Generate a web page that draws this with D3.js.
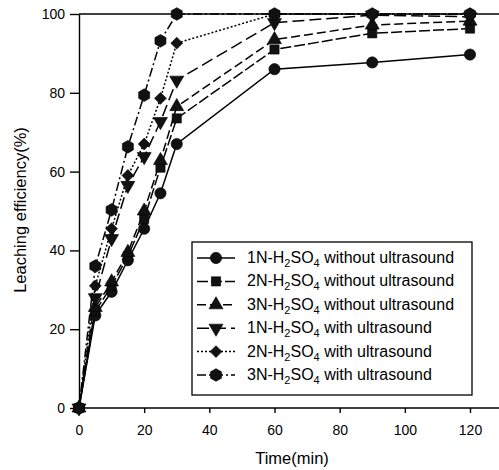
<!DOCTYPE html>
<html><head><meta charset="utf-8">
<script src="https://cdn.jsdelivr.net/npm/d3@7"></script>
<style>
html,body{margin:0;padding:0;background:#fff;}
svg{display:block;font-family:"Liberation Sans",Arial,sans-serif;}
</style></head>
<body>
<svg id="chart" width="499" height="470"></svg>
<script>
const time = [0, 5, 10, 15, 20, 25, 30, 60, 90, 120];
const n1Without = [0, 23.5, 29.5, 37.5, 45.5, 54.5, 67, 86, 87.7, 89.7];
const n2Without = [0, 24.5, 31, 38.5, 48, 61, 73.5, 91, 95.1, 96.3];
const n3Without = [0, 25.5, 32, 39.5, 50, 62.8, 76.5, 93.5, 97.2, 98.2];
const n1With = [0, 28, 43, 56.5, 63.8, 72.7, 83.2, 97.8, 99.7, 99.3];
const n2With = [0, 31, 45.5, 59, 67, 78.6, 92.6, 100, 100, 100];
const n3With = [0, 36, 50.3, 66.3, 79.4, 93.2, 100, 100, 100, 100];
const acid = ["1N", "2N", "3N", "1N", "2N", "3N"];
const condition = ["without ultrasound", "without ultrasound", "without ultrasound", "with ultrasound", "with ultrasound", "with ultrasound"];
const xTicks = [0, 20, 40, 60, 80, 100, 120];
const yTicks = [0, 20, 40, 60, 80, 100];
const xTitle = "Time(min)";
const yTitle = "Leaching efficiency(%)";

const seriesValues = [n1Without, n2Without, n3Without, n1With, n2With, n3With];
const dashes = [null, "11,3", "9,4", "12,5", "2,2", "9,3,2,3"];
const hexagon = {draw(ctx, size){const r=Math.sqrt(size/2.598);for(let i=0;i<6;i++){const a=Math.PI/6+i*Math.PI/3;const px=r*Math.cos(a),py=r*Math.sin(a);if(i===0)ctx.moveTo(px,py);else ctx.lineTo(px,py);}ctx.closePath();}};
const symbols = [d3.symbolCircle, d3.symbolSquare, d3.symbolTriangle, d3.symbolTriangle, d3.symbolSquare, hexagon];
const symSizes = [100, 85, 85, 85, 70, 105];
const rotations = [0, 0, 0, 180, 45, 0];

const svg = d3.select("#chart");
const x = d3.scaleLinear().domain([0, 120]).range([79, 470]);
const y = d3.scaleLinear().domain([0, 100]).range([408, 14]);
const font = 14;
const titleFont = 16.5;
const legendFont = 16;

svg.append("line").attr("x1", x(0)).attr("x2", 499).attr("y1", y(100)).attr("y2", y(100))
  .attr("stroke", "#000").attr("stroke-width", 1.4);

const gx = svg.append("g").attr("transform", `translate(0,${y(0)})`)
  .call(d3.axisBottom(x).tickValues(xTicks).tickSize(5).tickPadding(12).tickSizeOuter(0));
gx.select(".domain").remove();
gx.append("line").attr("x1", x(0)).attr("x2", 499).attr("stroke", "#000").attr("stroke-width", 1.4);
gx.selectAll("text").attr("font-size", font).attr("fill", "#000").attr("font-family", "Liberation Sans, Arial, sans-serif");
gx.selectAll(".tick line").attr("stroke-width", 1.4);

const gy = svg.append("g").attr("transform", `translate(${x(0)},0)`)
  .call(d3.axisLeft(y).tickValues(yTicks).tickSize(9).tickPadding(5).tickSizeOuter(0));
gy.select(".domain").attr("stroke-width", 1.4);
gy.selectAll("text").attr("font-size", font).attr("fill", "#000").attr("font-family", "Liberation Sans, Arial, sans-serif");
gy.selectAll(".tick line").attr("stroke-width", 1.4);

svg.append("text").attr("x", 292).attr("y", 464).attr("text-anchor", "middle")
  .attr("font-size", titleFont).attr("fill", "#000").text(xTitle);
svg.append("text").attr("transform", "translate(26,210) rotate(-90)").attr("text-anchor", "middle")
  .attr("font-size", titleFont).attr("fill", "#000").text(yTitle);

const line = d3.line().x((d, i) => x(time[i])).y(d => y(d));
seriesValues.forEach((vals, k) => {
  svg.append("path").datum(vals).attr("d", line).attr("fill", "none")
    .attr("stroke", "#000").attr("stroke-width", 1.5)
    .attr("stroke-dasharray", dashes[k]);
});
seriesValues.forEach((vals, k) => {
  const sym = d3.symbol().type(symbols[k]).size(symSizes[k]);
  svg.append("g").selectAll("path").data(vals).join("path")
    .attr("d", sym)
    .attr("transform", (d, i) => `translate(${x(time[i])},${y(d)}) rotate(${rotations[k]})`)
    .attr("fill", "#111").attr("stroke", "#000").attr("stroke-width", 0.6);
});

const lg = svg.append("g");
lg.append("rect").attr("x", 192).attr("y", 242).attr("width", 280).attr("height", 153)
  .attr("fill", "#fff").attr("stroke", "#000").attr("stroke-width", 1.3);
acid.forEach((a, k) => {
  const cy = 258 + k * 23.4;
  lg.append("line").attr("x1", 197).attr("x2", 235).attr("y1", cy).attr("y2", cy)
    .attr("stroke", "#000").attr("stroke-width", 1.5).attr("stroke-dasharray", dashes[k]);
  lg.append("path").attr("d", d3.symbol().type(symbols[k]).size(symSizes[k])())
    .attr("transform", `translate(216,${cy}) rotate(${rotations[k]})`)
    .attr("fill", "#111").attr("stroke", "#000").attr("stroke-width", 0.6);
  const t = lg.append("text").attr("x", 247).attr("y", cy + 5).attr("font-size", legendFont).attr("fill", "#000");
  t.append("tspan").text(a + "-H");
  t.append("tspan").attr("font-size", 11).attr("dy", 4).text("2");
  t.append("tspan").attr("dy", -4).text("SO");
  t.append("tspan").attr("font-size", 11).attr("dy", 4).text("4");
  t.append("tspan").attr("dy", -4).text(" " + condition[k]);
});
</script>
</body></html>
